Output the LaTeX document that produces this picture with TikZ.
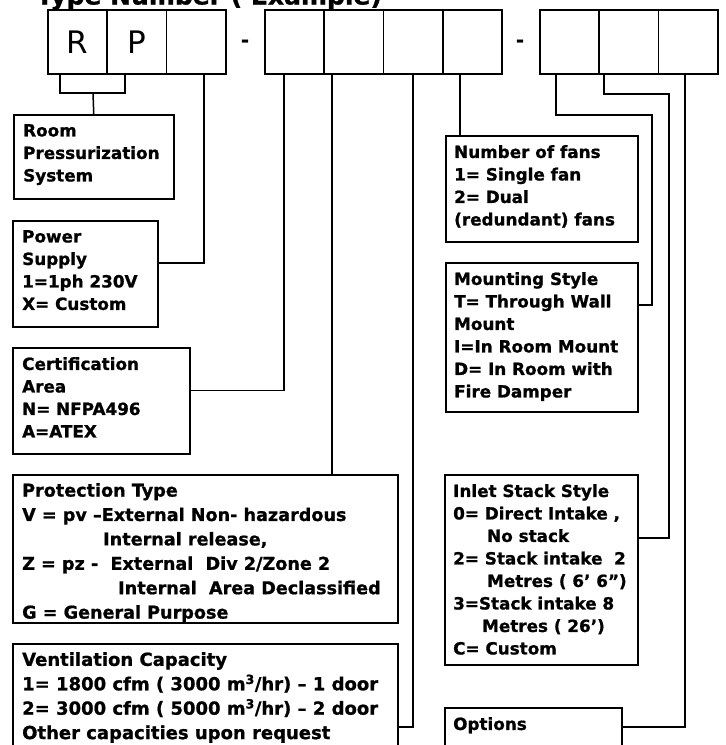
\documentclass[tikz,border=0pt]{standalone}
\usepackage{fontspec}
\setmainfont{DejaVu Sans}[BoldFeatures={FakeBold=1}]
\usepackage{tikz}
\usetikzlibrary{calc}
\tikzset{
  wire/.style={draw=black, line width=1.5pt, line join=miter},
  cell/.style={draw=black, line width=1.6pt, minimum width=59.3pt, minimum height=64pt,
    inner sep=0pt, font=\fontsize{31}{31}\selectfont},
  box/.style={draw=black, line width=1.5pt, inner sep=0pt, anchor=north west},
  lab/.style={anchor=north west, inner sep=0pt, align=left,
    font=\fontsize{16.8}{22.5}\selectfont\bfseries},
  labw/.style={lab, font=\fontsize{17.6}{24.4}\selectfont\bfseries},
  sep/.style={font=\fontsize{19}{19}\selectfont\bfseries, inner sep=0pt},
}
\begin{document}
\begin{tikzpicture}[x=1pt, y=-1pt]
  \useasboundingbox (0,0) rectangle (726,745);

  % title, cut at the top edge
  \node[anchor=base west, inner sep=0pt, font=\fontsize{25}{25}\selectfont\bfseries]
    (title) at (36,4.5) {Type Number ( Example)};

  % code cells
  \node[cell] (r1) at (77.6,42) {R};
  \node[cell] (r2) at (136.9,42) {P};
  \node[cell] (r3) at (196.2,42) {};
  \node[sep] (d1) at (245,43) {-};
  \node[cell] (g1) at (294.6,42) {};
  \node[cell] (g2) at (353.9,42) {};
  \node[cell] (g3) at (413.2,42) {};
  \node[cell] (g4) at (472.5,42) {};
  \node[sep] (d2) at (520,43) {-};
  \node[cell] (h1) at (569.6,42) {};
  \node[cell] (h2) at (628.9,42) {};
  \node[cell] (h3) at (688.2,42) {};

  % left column
  \node[box, minimum width=160pt, minimum height=84pt] (rps) at (13,114) {};
  \node[lab] at ([xshift=10pt,yshift=-10pt]rps.north west)
    {Room\\Pressurization\\System};

  \node[box, minimum width=145pt, minimum height=106pt] (pwr) at (12,220) {};
  \node[lab] at ([xshift=10pt,yshift=-10pt]pwr.north west)
    {Power\\Supply\\1=1ph 230V\\X= Custom};

  \node[box, minimum width=177pt, minimum height=106pt] (cert) at (12,347) {};
  \node[lab] at ([xshift=10pt,yshift=-10pt]cert.north west)
    {Certification\\Area\\N= NFPA496\\A=ATEX};

  \node[box, minimum width=385pt, minimum height=148pt] (prot) at (12,474) {};
  \begin{scope}
    \clip (prot.north west) rectangle (prot.south east);
    \node[labw] at ([xshift=10pt,yshift=-9pt]prot.north west)
      {Protection Type\\
       V = pv –External Non- hazardous\\
       \hspace*{81pt}Internal release,\\
       Z = pz -\ \ External\ \ Div 2/Zone 2\\
       \hspace*{96pt}Internal\ \ Area Declassified\\
       G = General Purpose};
  \end{scope}

  \node[box, minimum width=385pt, minimum height=130pt] (vent) at (12,643) {};
  \node[labw, font=\fontsize{18}{24.4}\selectfont\bfseries]
    at ([xshift=10pt,yshift=-9pt]vent.north west)
    {Ventilation Capacity\\
     1= 1800 cfm ( 3000 m\textsuperscript{3}/hr) – 1 door\\
     2= 3000 cfm ( 5000 m\textsuperscript{3}/hr) – 2 door\\
     Other capacities upon request};

  % right column
  \node[box, minimum width=192pt, minimum height=106pt] (fans) at (445,135) {};
  \node[lab] at ([xshift=9pt,yshift=-10pt]fans.north west)
    {Number of fans\\1= Single fan\\2= Dual\\(redundant) fans};

  \node[box, minimum width=192pt, minimum height=149pt] (mount) at (445,262) {};
  \node[lab] at ([xshift=9pt,yshift=-10pt]mount.north west)
    {Mounting Style\\T= Through Wall\\Mount\\I=In Room Mount\\D= In Room with\\Fire Damper};

  \node[box, minimum width=193pt, minimum height=190pt] (inlet) at (444,474) {};
  \node[lab] at ([xshift=9pt,yshift=-10pt]inlet.north west)
    {Inlet Stack Style\\
     0= Direct Intake ,\\
     \hspace*{34pt}No stack\\
     2= Stack intake\ \ 2\\
     \hspace*{34pt}Metres ( 6’ 6”)\\
     3=Stack intake 8\\
     \hspace*{29pt}Metres ( 26’)\\
     C= Custom};

  \node[box, minimum width=177pt, minimum height=80pt] (opts) at (444,707) {};
  \node[lab] at ([xshift=9pt,yshift=-10pt]opts.north west) {Options};

  % connectors
  \coordinate (rpj) at (93,93);
  \draw[wire] ([xshift=-17.6pt]r1.south) |- (rpj) -| ([xshift=-11.9pt]r2.south);
  \draw[wire] (rpj) -- (rps.north);
  \draw[wire] ([xshift=7.8pt]r3.south) |- ([yshift=11pt]pwr.east);
  \draw[wire] ([xshift=-10.6pt]g1.south) |- ([yshift=10.5pt]cert.east);
  \draw[wire] ([xshift=-22pt]g2.south) -- ([xshift=-22pt]g2.south |- prot.north);
  \draw[wire] (g3.south) |- ([yshift=-84pt]vent.north east);
  \draw[wire] ([xshift=-12.5pt]g4.south) -- ([xshift=-12.5pt]g4.south |- fans.north);
  \draw[wire] ([xshift=-13.6pt]h1.south) |- ++(96,40) |- ([yshift=32.5pt]mount.east);
  \draw[wire] ([xshift=-25pt]h2.south) |- ++(65,19) |- ([yshift=32pt]inlet.east);
  \draw[wire] ([xshift=-3.2pt]h3.south) |- ([yshift=-20pt]opts.north east);
\end{tikzpicture}
\end{document}
